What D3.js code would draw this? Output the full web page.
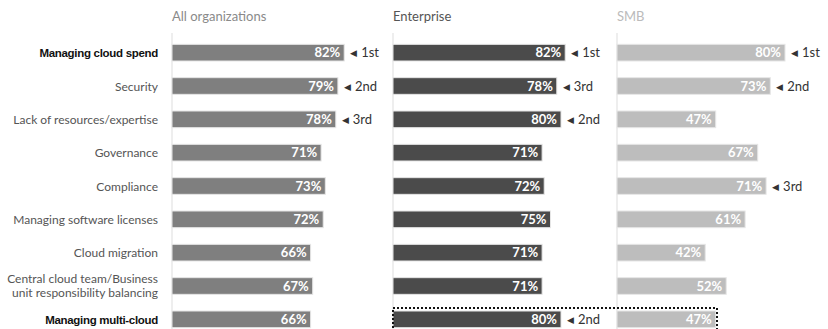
<!DOCTYPE html>
<html>
<head>
<meta charset="utf-8">
<script src="https://cdn.jsdelivr.net/npm/d3@7"></script>
<style>
  body { margin: 0; background: #fff; }
  svg { display: block; }
</style>
</head>
<body>
<svg id="chart" width="828" height="329"></svg>
<script>
const categories = [
  'Managing cloud spend',
  'Security',
  'Lack of resources/expertise',
  'Governance',
  'Compliance',
  'Managing software licenses',
  'Cloud migration',
  'Central cloud team/Business unit responsibility balancing',
  'Managing multi-cloud'
]
const highlighted = ['Managing cloud spend', 'Managing multi-cloud']

const panelNames = ['All organizations', 'Enterprise', 'SMB']
const allOrgs = [82, 79, 78, 71, 73, 72, 66, 67, 66]
const enterprise = [82, 78, 80, 71, 72, 75, 71, 71, 80]
const smb = [80, 73, 47, 67, 71, 61, 42, 52, 47]

const allRanks = ['1st', '2nd', '3rd', '', '', '', '', '', '']
const entRanks = ['1st', '3rd', '2nd', '', '', '', '', '', '2nd']
const smbRanks = ['1st', '2nd', '', '', '3rd', '', '', '', '']

const panels = [
  { name: panelNames[0], values: allOrgs, ranks: allRanks, x0: 172, fill: '#7f7f7f', head: '#8a8a8a' },
  { name: panelNames[1], values: enterprise, ranks: entRanks, x0: 393, fill: '#4b4b4b', head: '#555' },
  { name: panelNames[2], values: smb, ranks: smbRanks, x0: 617, fill: '#bdbdbd', head: '#bbb' }
]

const svg = d3.select('#chart')
const font = 'Lato, "Open Sans", sans-serif'

const y = d3.scaleBand()
  .domain(categories)
  .range([36, 336])
  .paddingInner(0.5)
  .paddingOuter(0.25)

const x = d3.scaleLinear().domain([0, 100]).range([0, 210])

// category labels
const labels = svg.append('g')
labels.selectAll('text')
  .data(categories)
  .enter()
  .append('text')
  .attr('x', 158)
  .attr('text-anchor', 'end')
  .attr('font-family', d => highlighted.includes(d) ? '"Liberation Sans", Arial, sans-serif' : font)
  .attr('font-weight', d => highlighted.includes(d) ? 'bold' : 'normal')
  .attr('font-size', d => highlighted.includes(d) ? 11.5 : 12)
  .attr('letter-spacing', d => highlighted.includes(d) ? -0.3 : 0)
  .attr('fill', d => highlighted.includes(d) ? '#111' : '#555')
  .each(function(d) {
    const t = d3.select(this)
    const mid = y(d) + y.bandwidth() / 2
    if (d.startsWith('Central')) {
      t.append('tspan').attr('x', 158).attr('y', mid - 3).text('Central cloud team/Business')
      t.append('tspan').attr('x', 158).attr('y', mid + 11).text('unit responsibility balancing')
    } else {
      t.attr('y', mid + 4.5).text(d)
    }
  })

panels.forEach(p => {
  const g = svg.append('g').attr('transform', `translate(${p.x0},0)`)

  g.append('text')
    .attr('x', 0)
    .attr('y', 21)
    .attr('font-family', font)
    .attr('font-size', 13)
    .attr('fill', p.head)
    .text(p.name)

  g.append('line')
    .attr('x1', 0).attr('x2', 0)
    .attr('y1', 33).attr('y2', 329)
    .attr('stroke', '#ddd')
    .attr('stroke-width', 1)

  const rows = g.selectAll('g.row')
    .data(categories.map((c, i) => ({ c, v: p.values[i], r: p.ranks[i] })))
    .enter()
    .append('g')
    .attr('class', 'row')

  rows.append('rect')
    .attr('x', 0)
    .attr('y', d => y(d.c))
    .attr('width', d => x(d.v))
    .attr('height', y.bandwidth())
    .attr('fill', p.fill)
    .attr('stroke', '#e6e6e6')
    .attr('stroke-width', 1)

  rows.append('text')
    .attr('x', d => x(d.v) - 4)
    .attr('y', d => y(d.c) + y.bandwidth() / 2 + 4.5)
    .attr('text-anchor', 'end')
    .attr('font-family', font)
    .attr('font-weight', 'bold')
    .attr('font-size', 13)
    .attr('fill', '#fff')
    .text(d => d.v + '%')

  const rank = rows.filter(d => d.r)
    .append('text')
    .attr('x', d => x(d.v) + 6)
    .attr('y', d => y(d.c) + y.bandwidth() / 2 + 4.5)
    .attr('font-family', font)
    .attr('font-size', 13)
    .attr('fill', '#333')
  rank.append('tspan')
    .attr('font-size', 9)
    .attr('dy', -1)
    .text('\u25C0')
  rank.append('tspan')
    .attr('dx', 4)
    .attr('dy', 1)
    .text(d => d.r)
})

// dotted highlight around the last enterprise/SMB row
const last = categories[categories.length - 1]
svg.append('rect')
  .attr('x', 393)
  .attr('y', y(last) - 3)
  .attr('width', 717 - 393)
  .attr('height', 40)
  .attr('fill', 'none')
  .attr('stroke', '#111')
  .attr('stroke-width', 2)
  .attr('stroke-dasharray', '2,2')
</script>
</body>
</html>
